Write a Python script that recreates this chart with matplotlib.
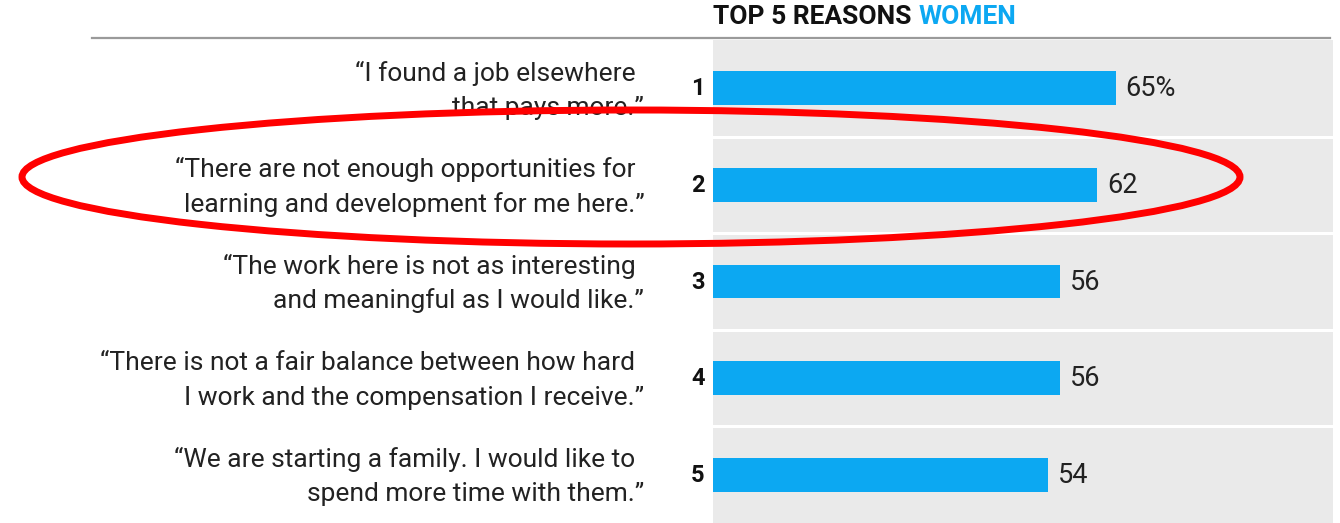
import matplotlib.pyplot as plt
from matplotlib.patches import Ellipse
from matplotlib.lines import Line2D

# Survey results: top reasons women gave for leaving
ranks = ["1", "2", "3", "4", "5"]
quotes = [
    ["\u201cI found a job elsewhere", "that pays more.\u201d"],
    ["\u201cThere are not enough opportunities for", "learning and development for me here.\u201d"],
    ["\u201cThe work here is not as interesting", "and meaningful as I would like.\u201d"],
    ["\u201cThere is not a fair balance between how hard", "I work and the compensation I receive.\u201d"],
    ["\u201cWe are starting a family. I would like to", "spend more time with them.\u201d"],
]
values = [65, 62, 56, 56, 54]
value_labels = ["65%", "62", "56", "56", "54"]

BLUE = "#0ca8f2"
PANEL = "#eaeaea"
TEXT = "#222222"

plt.rcParams["font.family"] = ["Roboto", "DejaVu Sans"]

W, H = 1340, 523
fig = plt.figure(figsize=(W / 100, H / 100), dpi=100)
fig.patch.set_facecolor("white")

# bar panel sits on the right half, below the header rule
ax = fig.add_axes([713 / W, 0, 620 / W, 483 / H])
ax.set_facecolor(PANEL)
ax.set_xlim(0, 100)
ax.set_ylim(len(values) - 0.5, -0.5)
for s in ax.spines.values():
    s.set_visible(False)
ax.set_xticks([])
ax.set_yticks([])

ypos = list(range(len(values)))
ax.barh(ypos, values, height=0.35, color=BLUE, zorder=3)

# white separators between rows
for i in range(1, len(values)):
    ax.axhline(i - 0.5, color="white", lw=2.2, zorder=2)

for i, (v, lab) in enumerate(zip(values, value_labels)):
    ax.annotate(lab, xy=(v, i), xytext=(7, -0.5), textcoords="offset points",
                ha="left", va="center", fontsize=19.5, color=TEXT)
    ax.annotate(ranks[i], xy=(0, i), xytext=(-6, -0.5), textcoords="offset points",
                ha="right", va="center", fontsize=17, fontweight="bold",
                color="#111111")
    first, second = quotes[i]
    # closing quote hangs past the right margin of the first line
    ax.annotate(first, xy=(0, i), xytext=(-56, 11), textcoords="offset points",
                ha="right", va="center", fontsize=19, color=TEXT,
                annotation_clip=False)
    ax.annotate(second, xy=(0, i), xytext=(-49.5, -14), textcoords="offset points",
                ha="right", va="center", fontsize=19, color=TEXT,
                annotation_clip=False)

# header rule
fig.add_artist(Line2D([92 / W, 1330 / W], [1 - 38 / H, 1 - 38 / H],
                      color="#9a9a9a", lw=1.6, transform=fig.transFigure))

# title: black lead-in followed by the blue group name
t1 = fig.text(713 / W, 1 - 17 / H, "TOP 5 REASONS ", ha="left", va="center",
              fontsize=19, fontweight="bold", color="#111111")
ax.annotate("WOMEN", xy=(1, 0.5), xycoords=t1, ha="left", va="center",
            fontsize=19, fontweight="bold", color=BLUE)

# red highlight around the second reason
ell = Ellipse((631 / W, 1 - 177 / H), 1218 / W, 134 / H,
              transform=fig.transFigure, fill=False, edgecolor="#ff0000",
              lw=5, zorder=10)
fig.add_artist(ell)

fig.savefig("out.png", dpi=100)
